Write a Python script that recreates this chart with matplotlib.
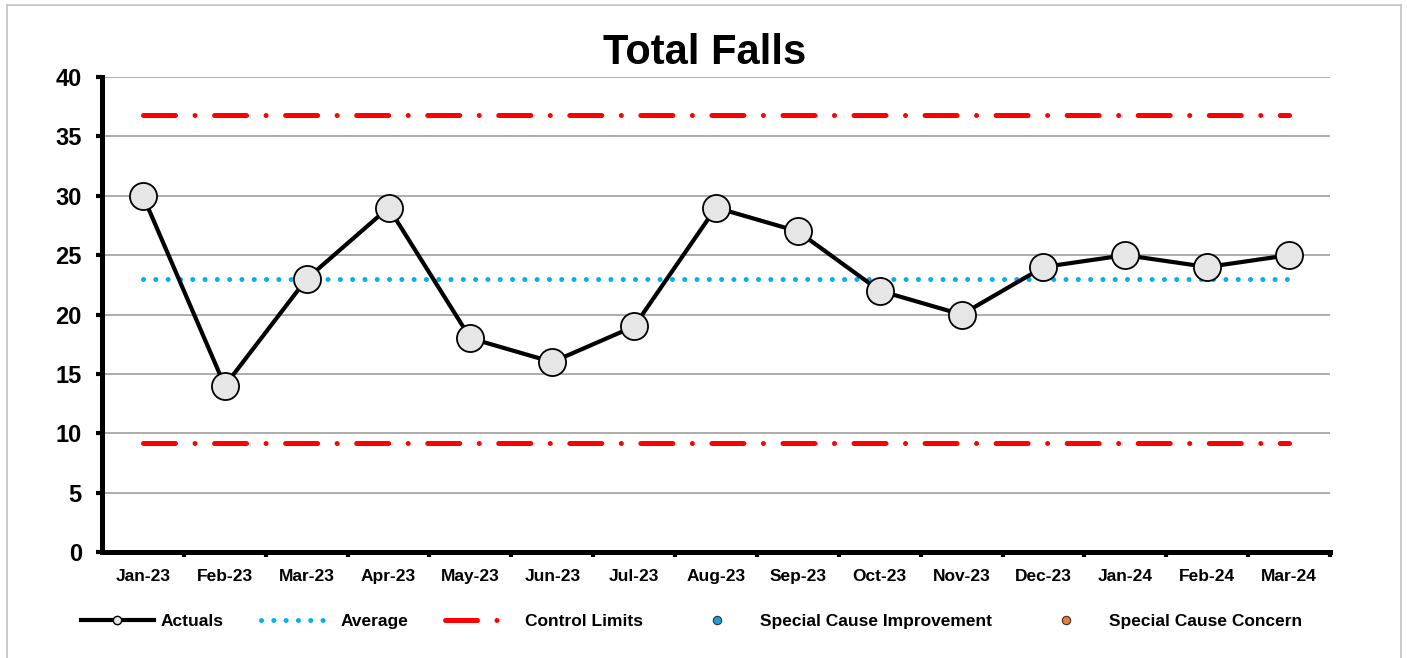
import matplotlib
matplotlib.use("Agg")
import matplotlib.pyplot as plt
from matplotlib.lines import Line2D
from matplotlib.patches import Rectangle

plt.rcParams["font.family"] = ["Liberation Sans", "DejaVu Sans"]
plt.rcParams["font.weight"] = "bold"

months = ["Jan-23", "Feb-23", "Mar-23", "Apr-23", "May-23", "Jun-23", "Jul-23",
          "Aug-23", "Sep-23", "Oct-23", "Nov-23", "Dec-23", "Jan-24", "Feb-24", "Mar-24"]
actuals = [30, 14, 23, 29, 18, 16, 19, 29, 27, 22, 20, 24, 25, 24, 25]
average = 23.0
ucl = 36.8
lcl = 9.2

RED = "#ff0000"
BLUE = "#00b0f0"
CL_DASH = (6.4, 3.9, 0.01, 3.9)
AVG_DASH = (0.01, 2.45)

fig = plt.figure(figsize=(14.07, 6.58), dpi=100)
ax = fig.add_axes([0.0725, 0.161, 0.8728, 0.722])

x = list(range(len(months)))
ax.plot(x, [ucl] * len(x), color=RED, lw=3.6, dashes=CL_DASH,
        dash_capstyle="round", zorder=2)
ax.plot(x, [lcl] * len(x), color=RED, lw=3.6, dashes=CL_DASH,
        dash_capstyle="round", zorder=2)
ax.plot(x, [average] * len(x), color=BLUE, lw=3.6, dashes=AVG_DASH,
        dash_capstyle="round", zorder=2)
ax.plot(x, actuals, color="black", lw=3, marker="o", ms=19.5,
        mfc="#e6e6e6", mec="black", mew=1.3, zorder=3)

ax.set_xlim(-0.5, len(months) - 0.5)
ax.set_ylim(0, 40)
ax.set_yticks(range(0, 41, 5))
ax.set_xticks(x)
ax.set_xticklabels(months, fontsize=12.5, fontweight="bold")
ax.set_xticks([i + 0.5 for i in x], minor=True)
ax.tick_params(axis="x", which="major", length=0, pad=12)
ax.tick_params(axis="x", which="minor", length=3.5, width=3, direction="out")
ax.tick_params(axis="y", labelsize=17, length=4, width=3, pad=10.5)
for lab in ax.get_yticklabels():
    lab.set_fontweight("bold")

ax.grid(axis="y", color="#a6a6a6", lw=1.3, zorder=0)
ax.set_axisbelow(True)
for s in ("top", "right"):
    ax.spines[s].set_visible(False)
for s in ("left", "bottom"):
    ax.spines[s].set_linewidth(3.6)

fig.suptitle("Total Falls", fontsize=30, fontweight="bold", x=0.501, y=0.95)

handles = [
    Line2D([], [], color="black", lw=3, marker="o", ms=6, mfc="#e6e6e6", mec="black", mew=1),
    Line2D([], [], color=BLUE, lw=3.6, dashes=AVG_DASH, dash_capstyle="round"),
    Line2D([], [], color=RED, lw=3.6, dashes=(6.4, 3.9, 0.01, 12), dash_capstyle="round"),
    Line2D([], [], ls="none", marker="o", ms=6, mfc="#1aa0e0", mec="#333333", mew=0.8),
    Line2D([], [], ls="none", marker="o", ms=6, mfc="#ed7d31", mec="#333333", mew=0.8),
]
labels = ["Actuals", "Average", "Control Limits", "Special Cause Improvement",
          "Special Cause Concern"]
fig.legend(handles, labels, loc="center", bbox_to_anchor=(0.4915, 0.056), ncol=5,
           frameon=False, handlelength=4.2, handletextpad=0.4,
           columnspacing=2.13, prop={"weight": "bold", "size": 12.5})

fig.patches.append(Rectangle((0.005, -0.01), 0.9907, 1.0024, transform=fig.transFigure,
                             fill=False, edgecolor="#c0c0c0", lw=1.2))

fig.savefig("out.png", dpi=100)
